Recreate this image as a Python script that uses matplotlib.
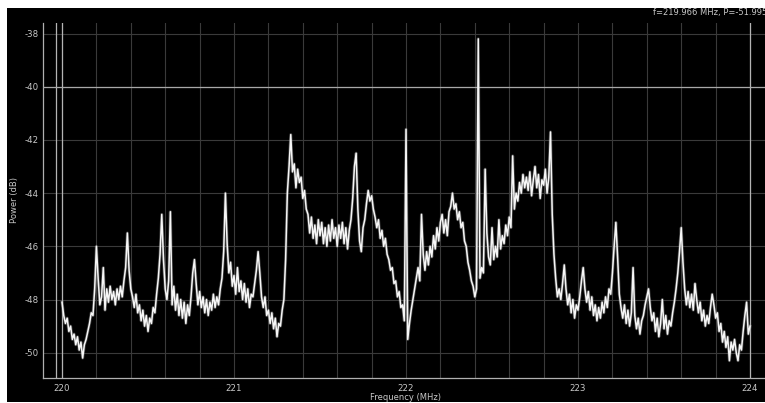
import numpy as np
import matplotlib
matplotlib.use("Agg")
import matplotlib.pyplot as plt
from matplotlib.patches import Rectangle

# 频谱数据：220.00 ~ 224.00 MHz，每 0.01 MHz 一个点（dB）
power_db = [
    -48.1, -48.6, -48.9, -48.7, -49.2, -49.0, -49.5, -49.3, -49.7, -49.4,
    -49.9, -49.6, -50.2, -49.7, -49.5, -49.2, -48.9, -48.5, -48.6, -47.6,
    -46.0, -47.2, -48.2, -47.9, -46.8, -48.4, -47.6, -48.1, -47.5, -48.0,
    -47.7, -48.2, -47.6, -48.0, -47.5, -47.9, -47.3, -46.8, -45.5, -46.9,
    -47.6, -47.9, -48.3, -47.8, -48.5, -48.2, -48.8, -48.4, -49.0, -48.6,
    -49.2, -48.7, -48.9, -48.3, -48.5, -47.8, -47.2, -46.3, -44.8, -46.5,
    -47.6, -48.0, -47.3, -44.7, -48.2, -47.5, -48.4, -47.8, -48.6, -48.0,
    -48.7, -48.1, -48.9, -48.2, -48.6, -47.9, -47.0, -46.5, -47.4, -48.2,
    -47.7, -48.3, -47.9, -48.5, -48.0, -48.6, -48.1, -48.4, -47.8, -48.3,
    -47.9, -48.2, -47.6, -47.2, -46.2, -44.0, -45.9, -47.0, -46.6, -47.5,
    -47.1, -47.8, -46.8, -47.7, -47.3, -48.0, -47.4, -48.1, -47.6, -48.3,
    -47.8, -47.9, -47.4, -46.9, -46.2, -47.0, -47.9, -48.3, -47.9, -48.6,
    -48.4, -48.9, -48.5, -49.1, -48.7, -49.4, -48.9, -49.0, -48.4, -48.0,
    -46.5, -44.0, -43.0, -41.8, -43.2, -42.9, -43.8, -43.1, -43.6, -43.4,
    -44.2, -43.9, -44.6, -44.8, -45.5, -44.9, -45.7, -45.2, -45.9, -45.0,
    -45.6, -45.1, -45.9, -45.3, -46.0, -45.2, -45.8, -45.0, -45.7, -45.3,
    -46.0, -45.2, -45.7, -45.1, -45.9, -45.3, -46.1, -45.4, -45.0, -44.2,
    -43.0, -42.5, -44.6, -45.8, -46.2, -45.3, -45.0, -44.4, -43.9, -44.3,
    -44.1, -44.6, -44.9, -45.3, -45.0, -45.7, -45.4, -46.0, -45.7, -46.3,
    -46.5, -46.9, -46.8, -47.4, -47.3, -47.9, -47.7, -48.3, -48.2, -48.8,
    -41.6, -49.5, -48.9, -48.4, -48.0, -47.6, -47.2, -46.8, -47.3, -44.8,
    -46.3, -46.9, -46.2, -46.7, -46.0, -46.4, -45.6, -46.1, -45.3, -45.8,
    -45.1, -44.8, -45.5, -45.0, -45.6, -44.7, -44.5, -44.0, -44.6, -44.4,
    -45.0, -44.7, -45.3, -45.1, -45.8, -46.0, -46.6, -46.9, -47.3, -47.5,
    -47.9, -47.6, -38.2, -47.2, -46.8, -47.0, -43.1, -45.5, -46.4, -46.7,
    -45.3, -46.5, -46.0, -46.4, -45.0, -46.1, -45.6, -45.9, -45.2, -45.6,
    -44.9, -45.3, -42.6, -44.6, -44.0, -44.3, -43.6, -44.0, -43.3, -43.8,
    -43.4, -43.9, -43.2, -44.1, -43.5, -43.0, -43.8, -43.3, -44.2, -43.5,
    -43.7, -43.1, -44.0, -43.4, -41.7, -44.8, -46.3, -47.2, -47.9, -47.6,
    -48.0, -47.4, -46.7, -47.6, -48.2, -47.8, -48.5, -48.0, -48.7, -48.2,
    -48.4, -47.9, -47.3, -46.8, -47.6, -48.1, -47.7, -48.4, -47.9, -48.6,
    -48.2, -48.8, -48.3, -48.7, -48.1, -48.5, -47.9, -48.3, -47.6, -47.8,
    -47.0, -46.0, -45.1, -46.4, -47.8, -48.3, -48.7, -48.2, -48.9, -48.4,
    -49.0, -48.5, -46.8, -48.6, -49.1, -48.7, -49.3, -48.8, -48.6, -48.2,
    -47.9, -47.6, -48.3, -48.8, -48.5, -49.2, -48.7, -49.4, -48.9, -48.0,
    -49.1, -48.6, -49.3, -48.8, -49.0, -48.5, -48.1, -47.6, -47.0, -46.2,
    -45.3, -46.6, -47.6, -48.2, -47.7, -48.3, -47.8, -48.4, -47.4, -48.0,
    -48.5, -48.1, -48.8, -48.4, -49.0, -48.6, -48.9, -48.3, -47.8, -48.2,
    -48.7, -48.5, -49.2, -48.9, -49.6, -49.2, -49.8, -49.4, -50.3, -49.6,
    -49.9, -49.5, -50.0, -50.3, -49.7, -49.9, -49.2, -48.6, -48.1, -49.3,
    -49.0,
]
freq_start, freq_stop = 220.0, 224.0

# 标记线
marker_freqs = [219.966, 220.0, 224.0]
ref_level = -40
marker_text = "f=219.966 MHz, P=-51.995 dB"

x_ticks = [220, 221, 222, 223, 224]
y_ticks = [-38, -40, -42, -44, -46, -48, -50]

W, H = 765, 403

plt.rcParams["axes.unicode_minus"] = False


def px(x):
    return x / W


def py(y):
    return 1 - y / H


def white_strip(fig, x0, y0, x1, y1):
    """在图的像素坐标 (x0,y0)-(x1,y1) 处画白色边"""
    fig.patches.append(Rectangle((px(x0), py(y1)), px(x1) - px(x0), py(y0) - py(y1),
                                 transform=fig.transFigure, facecolor="white",
                                 edgecolor="none", zorder=20))


def plot_spectrum():
    freqs = np.linspace(freq_start, freq_stop, len(power_db))

    fig = plt.figure(figsize=(W / 100, H / 100), dpi=100, facecolor="black")

    ax = fig.add_axes([px(43), py(378), 1 - px(43), py(23) - py(378)])
    ax.set_facecolor("black")

    # 灰色外沿 + 白色主线，模仿频谱仪的噪声带
    ax.plot(freqs, power_db, color="#9a9a9a", lw=2.2, alpha=0.4, zorder=4)
    ax.plot(freqs, power_db, color="#f6f6f6", lw=1.1, zorder=5)

    for f in marker_freqs:
        ax.axvline(f, color="#b4b4b4", lw=0.9, zorder=3)
    ax.axhline(ref_level, color="#a8a8a8", lw=0.9, zorder=3)

    ax.set_xlim(219.8895, 224.087)
    ax.set_ylim(-50.95, -37.605)

    ax.set_xticks(x_ticks)
    ax.set_xticks(np.arange(219.8, 224.2, 0.2)[1:], minor=True)
    ax.set_yticks(y_ticks)
    ax.grid(which="both", color="#3a3a3a", lw=0.8, zorder=1)
    ax.set_axisbelow(True)

    ax.tick_params(which="both", length=0, colors="#c8c8c8", labelsize=6.2)
    ax.tick_params(axis="x", pad=4)
    ax.tick_params(axis="y", pad=3)

    for s in ["top", "right"]:
        ax.spines[s].set_visible(False)
    for s in ["left", "bottom"]:
        ax.spines[s].set_color("#b0b0b0")
        ax.spines[s].set_linewidth(0.9)

    fig.text(px(405), py(398), "Frequency (MHz)", color="#c8c8c8",
             fontsize=6, ha="center", va="center")
    fig.text(px(14), py(200), "Power (dB)", color="#c8c8c8", fontsize=6,
             ha="center", va="center", rotation=90)
    fig.text(px(653), py(15), marker_text, color="#c8c8c8", fontsize=6.0,
             ha="left", va="baseline")

    # 左、上、下的白边（上边遮住标记文字上半部）
    white_strip(fig, 0, 0, W, 8)
    white_strip(fig, 0, 0, 7, H)
    white_strip(fig, 0, H - 1.5, W, H)

    fig.savefig("out.png", dpi=100, facecolor="black")


if __name__ == "__main__":
    plot_spectrum()
